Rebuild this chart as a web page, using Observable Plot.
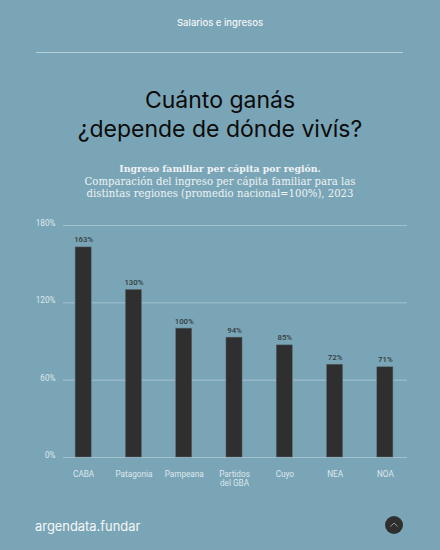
<!DOCTYPE html>
<html><head><meta charset="utf-8">
<script src="https://cdn.jsdelivr.net/npm/d3@7"></script>
<script src="https://cdn.jsdelivr.net/npm/@observablehq/plot@0.6"></script>
<style>
html,body{margin:0;padding:0;}
body{width:440px;height:550px;background:#7aa5b6;position:relative;overflow:hidden;}
.t{position:absolute;left:0;width:440px;text-align:center;white-space:nowrap;}
#kicker{top:16px;font:500 9.5px/13px Inter,sans-serif;color:#f2f6f8;}
#rule{position:absolute;left:36px;width:367px;top:52px;height:1px;background:#b9d0da;}
#title{top:86px;font:400 23px/29px Inter,sans-serif;color:#0b0b0b;}
#sub{top:163px;font:400 10.1px/12.7px "DejaVu Serif",serif;color:#eef3f5;}
#sub b{font-weight:700;font-size:9.3px}
#chart{position:absolute;left:0;top:210px;}
#brand{position:absolute;left:35px;top:518px;font:400 12.9px/18px Inter,sans-serif;color:#f5f8f9;}
#up{position:absolute;left:385px;top:516px;}
</style></head><body>
<div id="kicker" class="t">Salarios e ingresos</div>
<div id="rule"></div>
<div id="title" class="t">Cuánto ganás<br>¿depende de dónde vivís?</div>
<div id="sub" class="t"><b>Ingreso familiar per cápita por región.</b><br>Comparación del ingreso per cápita familiar para las<br>distintas regiones (promedio nacional=100%), 2023</div>
<div id="chart"></div>
<div id="brand">argendata.fundar</div>
<svg id="up" width="18" height="18" viewBox="0 0 18 18"><circle cx="9" cy="9" r="9" fill="#2f2f2f"/><path d="M5.5 10.5 L9 7 L12.5 10.5" fill="none" stroke="#8f9a9f" stroke-width="1"/></svg>
<script>
const regions = ["CABA","Patagonia","Pampeana","Partidos del GBA","Cuyo","NEA","NOA"];
const barHeights = [163,130,100,93,87,72,70];
const labels = ["163%","130%","100%","94%","85%","72%","71%"];
const yTicks = [0,60,120,180];
const data = regions.map((r,i)=>({region:r,value:barHeights[i],label:labels[i]}));
const chart = Plot.plot({
  width:440,height:290,
  marginLeft:58,marginRight:30,marginTop:15,marginBottom:43,
  style:{background:"transparent",fontFamily:"Roboto, sans-serif",fontSize:"8px",overflow:"visible"},
  x:{domain:regions,label:null,paddingInner:0.68,paddingOuter:0.34,align:0.5,round:false,axis:null},
  y:{domain:[0,180],label:null,axis:null},
  marks:[
    Plot.ruleY(yTicks,{stroke:"#a3c2cf",strokeWidth:1,insetLeft:5,insetRight:3}),
    Plot.barY(data,{x:"region",y:"value",fill:"#2f2f2f",stroke:"#5c6c74",strokeWidth:0.5}),
    Plot.text(data,{x:"region",y:"value",text:"label",dy:-7.5,fill:"#333c40",fontWeight:500,fontSize:7.8}),
    Plot.axisY({ticks:yTicks,tickSize:0,tickPadding:0,dx:-3,dy:-2,tickFormat:d=>d+"%",fill:"#dde8ed",fontSize:8.2,label:null}),
    Plot.axisX({tickSize:0,tickPadding:12,label:null,fill:"#dde8ed",fontSize:8.2,lineWidth:5,lineHeight:1.2})
  ]
});
document.getElementById("chart").appendChild(chart);
</script>
</body></html>
